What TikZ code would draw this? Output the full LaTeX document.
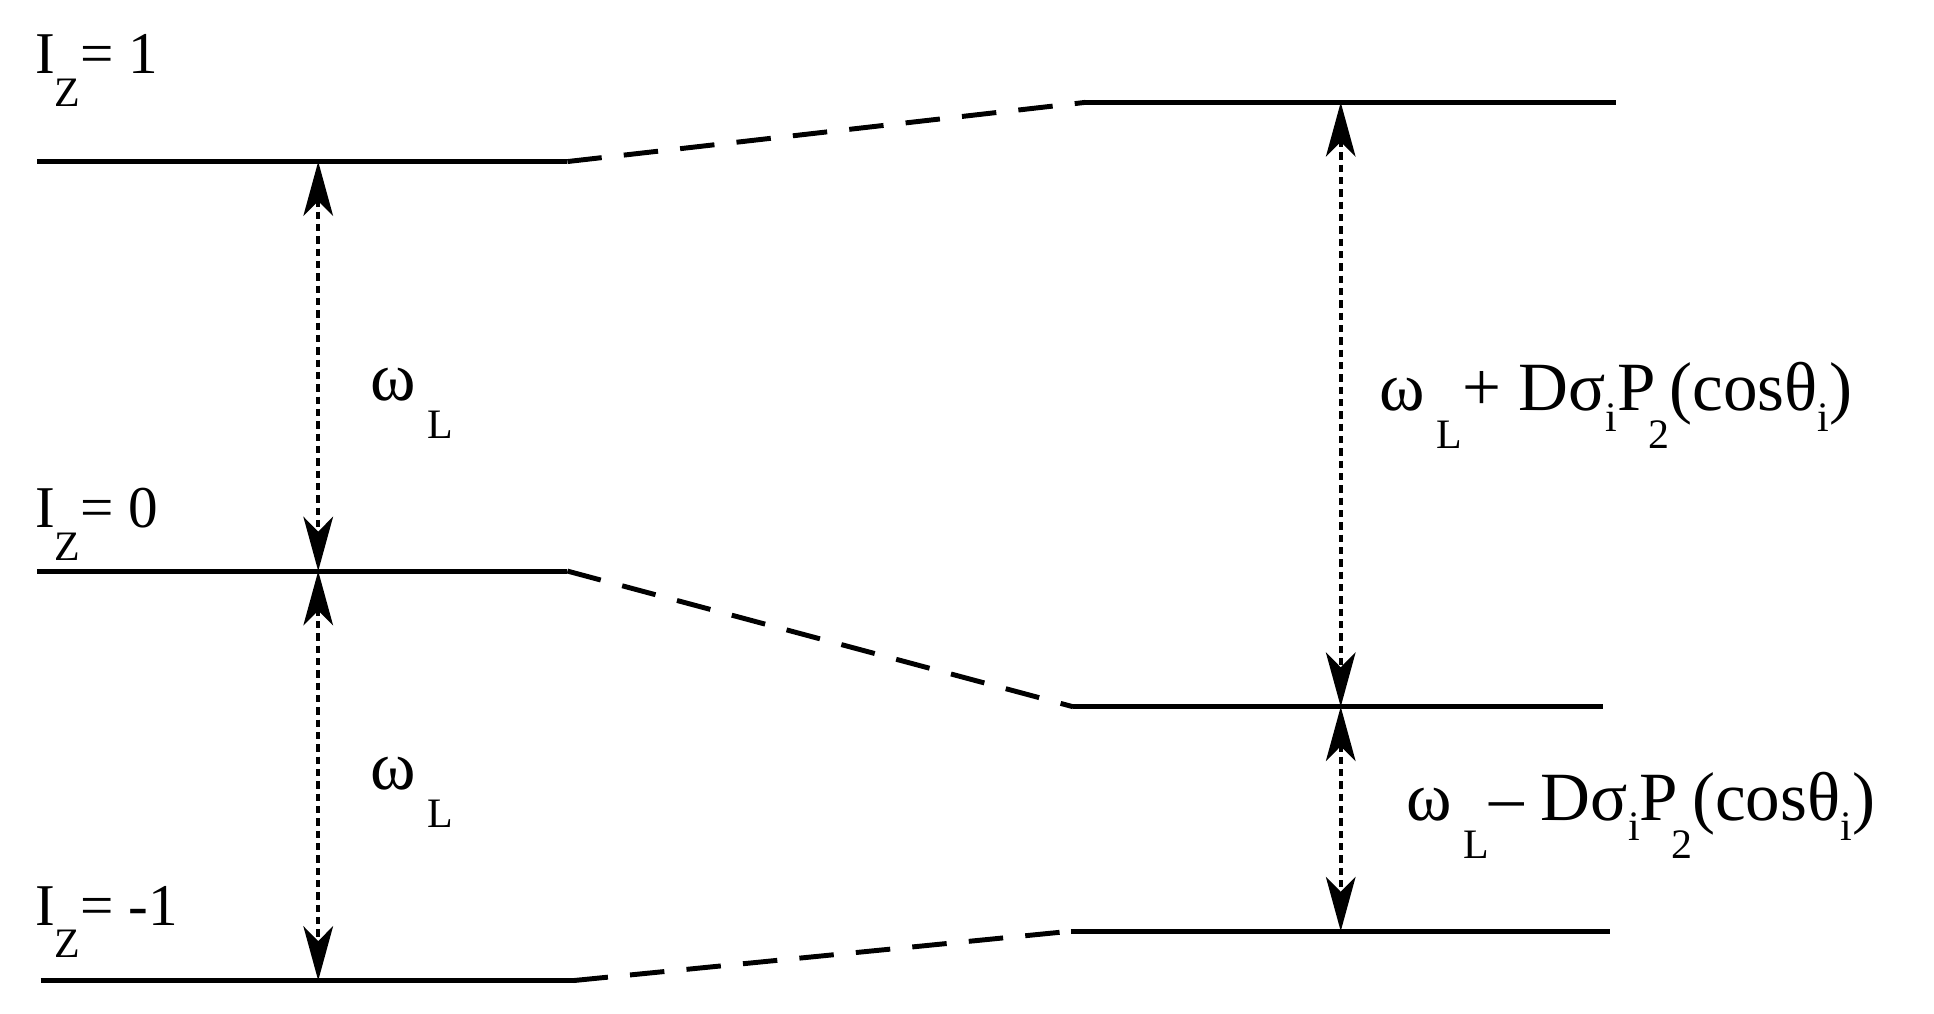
\documentclass[tikz,border=0pt]{standalone}
\usepackage{fontspec}
\setmainfont{Liberation Serif}
\usetikzlibrary{arrows.meta}
\newcommand{\sbl}[1]{\raisebox{-0.55em}{\fontsize{17}{17}\selectfont #1}}
\newcommand{\sbi}[1]{\raisebox{-0.3em}{\fontsize{17}{17}\selectfont #1}}
\begin{document}
\begin{tikzpicture}[x=0.5pt,y=-0.5pt,
  level/.style={line width=2pt},
  link/.style={line width=2pt,dash pattern=on 14pt off 9pt},
  gap/.style={line width=1.6pt,dash pattern=on 3pt off 2pt,{Stealth[length=22pt,width=12pt,inset=6pt]}-{Stealth[length=22pt,width=12pt,inset=6pt]}},
  lab/.style={anchor=base west,inner sep=0pt,font=\fontsize{24}{24}\selectfont},
  labr/.style={anchor=base west,inner sep=0pt,font=\fontsize{28}{28}\selectfont}]
\useasboundingbox (0,0) rectangle (1568,822);
\coordinate (a1) at (30,131); \coordinate (a2) at (460,131);
\coordinate (b1) at (30,463); \coordinate (b2) at (460,463);
\coordinate (c1) at (33,795); \coordinate (c2) at (465,795);
\coordinate (d1) at (880,83); \coordinate (d2) at (1310,83);
\coordinate (e1) at (870,573); \coordinate (e2) at (1300,573);
\coordinate (f1) at (868,755); \coordinate (f2) at (1305,755);
\draw[level] (a1)--(a2); \draw[level] (b1)--(b2); \draw[level] (c1)--(c2);
\draw[level] (d1)--(d2); \draw[level] (e1)--(e2); \draw[level] (f1)--(f2);
\draw[link] (a2)--(d1); \draw[link] (b2)--(e1); \draw[link] (c2)--(f1);
\coordinate (la) at (258,131); \coordinate (lb) at (258,463); \coordinate (lc) at (258,795);
\coordinate (ra) at (1087,83); \coordinate (rb) at (1087,573); \coordinate (rc) at (1087,755);
\draw[gap] (la)--(lb); \draw[gap] (lb)--(lc);
\draw[gap] (ra)--(rb); \draw[gap] (rb)--(rc);
\node[lab] (t1) at (28,60) {I\sbl{Z}= 1};
\node[lab] (t2) at (28,428) {I\sbl{Z}= 0};
\node[lab] (t3) at (28,750) {I\sbl{Z}= -1};
\node[labr] (w1) at (300,325) {ω\,\sbl{L}};
\node[labr] (w2) at (300,640) {ω\,\sbl{L}};
\node[labr] (r1) at (1118,333) {ω\,\sbl{L}+ Dσ\sbi{i}P\kern-0.1em\sbl{2}(cosθ\sbi{i})};
\node[labr] (r2) at (1140,665) {ω\,\sbl{L}– Dσ\sbi{i}P\kern-0.1em\sbl{2}(cosθ\sbi{i})};
\end{tikzpicture}
\end{document}
